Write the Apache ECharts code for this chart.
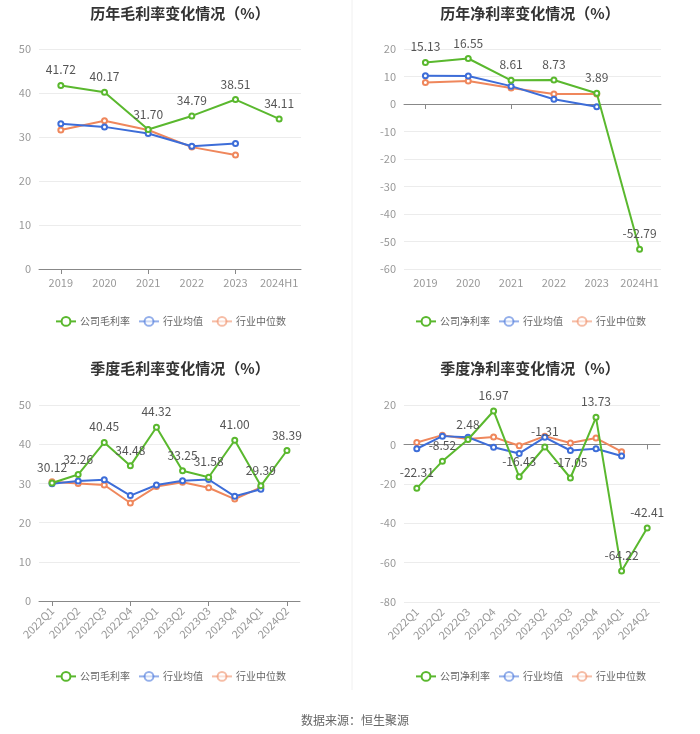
<!DOCTYPE html>
<html><head><meta charset="utf-8">
<script src="https://cdn.jsdelivr.net/npm/echarts@6/dist/echarts.min.js"></script>
<style>html,body{margin:0;padding:0;background:#fff}#c{width:700px;height:734px}</style>
</head><body><div id="c"></div>
<script>
const yearCats = ['2019','2020','2021','2022','2023','2024H1'];
const quarterCats = ['2022Q1','2022Q2','2022Q3','2022Q4','2023Q1','2023Q2','2023Q3','2023Q4','2024Q1','2024Q2'];

const yearGross = [41.72, 40.17, 31.70, 34.79, 38.51, 34.11];
const yearGrossAvg = [33.0, 32.3, 30.8, 27.9, 28.5];
const yearGrossMed = [31.6, 33.7, 31.6, 27.7, 25.9];

const yearNet = [15.13, 16.55, 8.61, 8.73, 3.89, -52.79];
const yearNetAvg = [10.3, 10.2, 6.5, 1.7, -1.0];
const yearNetMed = [7.8, 8.4, 5.8, 3.6, 3.6];

const qGross = [30.12, 32.26, 40.45, 34.48, 44.32, 33.25, 31.58, 41.00, 29.39, 38.39];
const qGrossAvg = [29.9, 30.6, 30.9, 26.9, 29.6, 30.7, 31.0, 26.7, 28.5];
const qGrossMed = [30.4, 30.0, 29.6, 25.0, 29.2, 30.3, 28.9, 26.0, 29.0];

const qNet = [-22.31, -8.52, 2.48, 16.97, -16.43, -1.31, -17.05, 13.73, -64.22, -42.41];
const qNetAvg = [-2.2, 4.2, 3.6, -1.4, -4.6, 3.6, -3.1, -2.2, -5.9];
const qNetMed = [1.0, 4.7, 2.7, 3.7, -0.7, 4.2, 0.7, 3.2, -3.7];

const titles = ['历年毛利率变化情况（%）','历年净利率变化情况（%）','季度毛利率变化情况（%）','季度净利率变化情况（%）'];
const companyNames = ['公司毛利率','公司净利率','公司毛利率','公司净利率'];
const avgName = '行业均值', medName = '行业中位数';

const GREEN = '#5ab82e', BLUE = '#3d6dd8', ORANGE = '#ef875c';
const grids = [
  {left: 39, width: 262, top: 49, height: 220},
  {left: 404, width: 257, top: 49, height: 220},
  {left: 39, width: 261, top: 405, height: 196},
  {left: 404, width: 256, top: 405, height: 197}
];
const yRanges = [[0,50,10],[-60,20,10],[0,50,10],[-80,20,20]];
const cats = [yearCats, yearCats, quarterCats, quarterCats];
const comp = [yearGross, yearNet, qGross, qNet];
const avgs = [yearGrossAvg, yearNetAvg, qGrossAvg, qNetAvg];
const meds = [yearGrossMed, yearNetMed, qGrossMed, qNetMed];
const titleCenters = [[175, 1], [525, 1], [175, 356], [525, 356]];
const legendPos = [[55, 316], [415, 316], [55, 671], [415, 671]];

const option = {
  backgroundColor: '#fff',
  animation: false,
  textStyle: {fontFamily: '"Noto Sans CJK SC", "Noto Sans", sans-serif'},
  title: titles.map((t, i) => ({
    text: t, left: titleCenters[i][0], top: titleCenters[i][1], textAlign: 'center',
    textStyle: {fontSize: 15, fontWeight: 'bold', color: '#333'}
  })).concat([{
    text: '数据来源：恒生聚源', left: 350, top: 709, textAlign: 'center',
    textStyle: {fontSize: 12, fontWeight: 'normal', color: '#666'}
  }]),
  legend: [0,1,2,3].map(i => ({
    left: legendPos[i][0], top: legendPos[i][1], itemWidth: 20, itemHeight: 11, itemGap: 8,
    padding: 0,
    textStyle: {fontSize: 10, color: '#666', padding: [0, 0, 0, -1]},
    data: [
      {name: companyNames[i]},
      {name: avgName, itemStyle: {opacity: 0.55}, lineStyle: {opacity: 0.55}},
      {name: medName, itemStyle: {opacity: 0.55}, lineStyle: {opacity: 0.55}}
    ]
  })),
  grid: grids,
  xAxis: [],
  yAxis: [],
  series: [],
  graphic: [{
    type: 'line', shape: {x1: 352, y1: 0, x2: 352, y2: 690},
    style: {stroke: '#f0f0f0', lineWidth: 1}
  }]
};

for (let i = 0; i < 4; i++) {
  const rotate = i >= 2 ? 45 : 0;
  option.xAxis.push({
    type: 'category', gridIndex: i, data: cats[i], boundaryGap: true,
    axisLine: {onZero: true, lineStyle: {color: '#888'}},
    axisTick: {show: true, alignWithLabel: true, lineStyle: {color: '#888'}},
    axisLabel: {show: false}, splitLine: {show: false}
  });
  option.xAxis.push({
    type: 'category', gridIndex: i, data: cats[i], position: 'bottom', boundaryGap: true,
    axisLine: {show: false, onZero: false}, axisTick: {show: false},
    axisLabel: {color: '#999', fontSize: 11, rotate: rotate, margin: 8, interval: 0},
    splitLine: {show: false}
  });
  option.yAxis.push({
    type: 'value', gridIndex: i, min: yRanges[i][0], max: yRanges[i][1], interval: yRanges[i][2],
    axisLine: {show: false}, axisTick: {show: false},
    axisLabel: {color: '#999', fontSize: 11, margin: 8},
    splitLine: {lineStyle: {color: '#ececec'}}
  });
  const base = {type: 'line', xAxisIndex: i * 2, yAxisIndex: i, symbol: 'emptyCircle', symbolSize: 5,
    lineStyle: {width: 2}};
  option.series.push(Object.assign({}, base, {
    name: companyNames[i], data: comp[i], color: GREEN, z: 5,
    label: {show: true, position: 'top', color: '#555', fontSize: 12, distance: 6,
      formatter: p => p.value.toFixed(2)}
  }));
  option.series.push(Object.assign({}, base, {name: avgName, data: avgs[i], color: BLUE, z: 4}));
  option.series.push(Object.assign({}, base, {name: medName, data: meds[i], color: ORANGE, z: 3}));
}

const chart = echarts.init(document.getElementById('c'), null, {renderer: 'canvas'});
chart.setOption(option);
</script>
</body></html>
